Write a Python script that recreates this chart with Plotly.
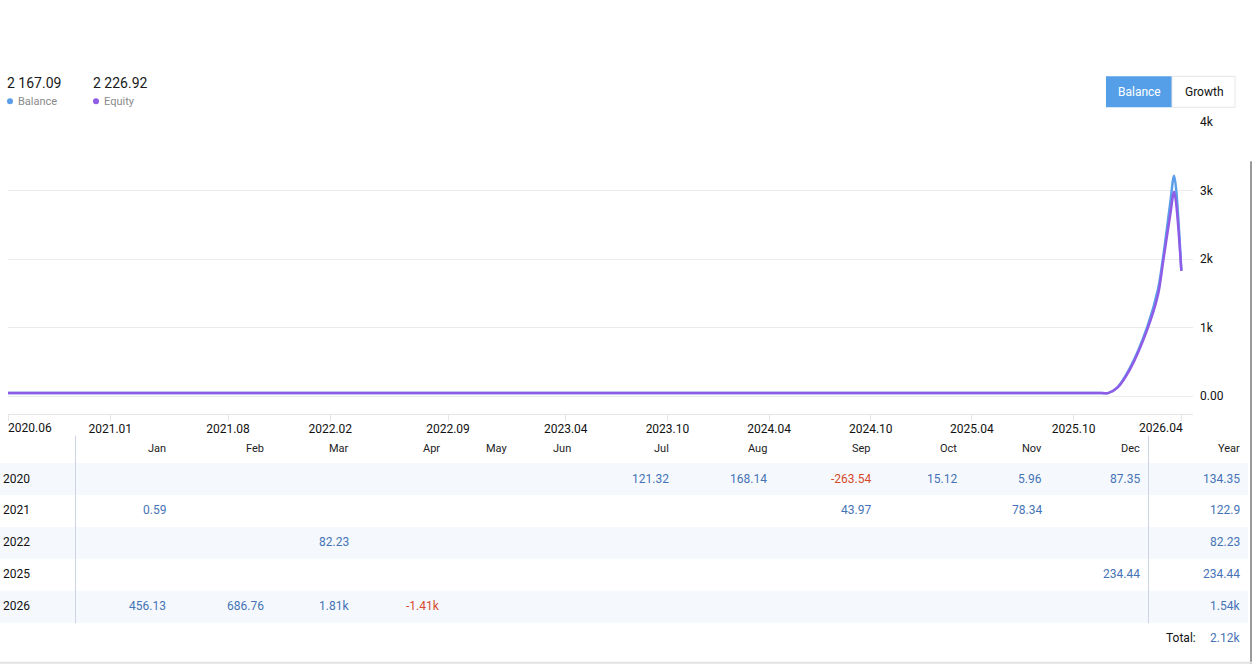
import plotly.graph_objects as go

W, H = 1252, 664

# ---------------- data ----------------
dates = ['2020-07-01', '2025-11-20', '2025-12-02', '2025-12-19', '2026-01-11', '2026-02-11',
         '2026-03-02', '2026-03-11', '2026-03-24', '2026-03-31', '2026-04-13']
balance = [45, 45, 45, 130, 420, 1020, 1560, 2020, 2820, 3220, 1830]
equity = [45, 45, 45, 125, 400, 980, 1480, 1950, 2650, 2980, 1830]

x_tick_dates = ['2020-07-01', '2021-01-01', '2021-08-01', '2022-02-01', '2022-09-01',
                '2023-04-01', '2023-10-01', '2024-04-01', '2024-10-01', '2025-04-01',
                '2025-10-01', '2026-04-13']
x_tick_labels = ['2020.06', '2021.01', '2021.08', '2022.02', '2022.09', '2023.04',
                 '2023.10', '2024.04', '2024.10', '2025.04', '2025.10', '2026.04']
y_tick_vals = [0, 1000, 2000, 3000, 4000]
y_tick_labels = ['0.00', '1k', '2k', '3k', '4k']

header_balance = '2 167.09'
header_equity = '2 226.92'

months = ['Jan', 'Feb', 'Mar', 'Apr', 'May', 'Jun', 'Jul', 'Aug', 'Sep', 'Oct', 'Nov', 'Dec']
years = [2020, 2021, 2022, 2025, 2026]
growth_2020 = [None, None, None, None, None, None, 121.32, 168.14, -263.54, 15.12, 5.96, 87.35]
growth_2021 = [0.59, None, None, None, None, None, None, None, 43.97, None, 78.34, None]
growth_2022 = [None, None, 82.23, None, None, None, None, None, None, None, None, None]
growth_2025 = [None, None, None, None, None, None, None, None, None, None, None, 234.44]
growth_2026 = [456.13, 686.76, 1810, -1410, None, None, None, None, None, None, None, None]
year_totals = [134.35, 122.9, 82.23, 234.44, 1540]
grand_total = 2120

# ---------------- styling / layout helpers ----------------
BLUE = '#5b9ee9'
PURPLE = '#8f5ce8'
VAL = '#4673b6'
NEG = '#d64a2c'
FONT = 'Roboto'

col_right = [166, 264, 349, 440, 508, 571, 669, 767, 871, 957, 1042, 1140]
year_right = 1240
row_y = [478, 510, 542, 574, 606]


def px(x):
    return x / W


def py(y):
    yy = (y - 5.5) / 0.9915
    return 1 - yy / H


def fmt(v):
    if abs(v) >= 1000:
        return f"{v / 1000:.2f}k"
    s = f"{v:.2f}"
    s = s.rstrip('0').rstrip('.')
    return s


def label(x, y, text, anchor='left', size=12, color='#111111'):
    return dict(xref='paper', yref='paper', x=px(x), y=py(y), text=text,
                xanchor=anchor, yanchor='middle', showarrow=False,
                borderpad=0, borderwidth=0,
                font=dict(size=size, color=color, family=FONT))


fig = go.Figure()
fig.add_trace(go.Scatter(x=dates, y=balance, mode='lines', name='Balance',
                         line=dict(color=BLUE, width=2.5, shape='spline', smoothing=0.9),
                         hoverinfo='skip'))
fig.add_trace(go.Scatter(x=dates, y=equity, mode='lines', name='Equity',
                         line=dict(color=PURPLE, width=2.5, shape='spline', smoothing=0.9),
                         hoverinfo='skip'))

annotations = []
shapes = []

# header values
annotations.append(label(7, 82, header_balance, size=14, color='#1a1a1a'))
annotations.append(label(93, 82, header_equity, size=14, color='#1a1a1a'))
annotations.append(label(18, 100, 'Balance', size=11, color='#8a8a8a'))
annotations.append(label(104, 100, 'Equity', size=11, color='#8a8a8a'))
for cx, col in [(10, BLUE), (96, PURPLE)]:
    shapes.append(dict(type='circle', xref='paper', yref='paper', x0=px(cx - 3), x1=px(cx + 3),
                       y0=py(103), y1=py(97), fillcolor=col, line=dict(width=0)))

# buttons
shapes.append(dict(type='rect', xref='paper', yref='paper', x0=px(1106), x1=px(1172),
                   y0=py(106), y1=py(75), fillcolor='#559fe9', line=dict(width=0)))
shapes.append(dict(type='rect', xref='paper', yref='paper', x0=px(1172), x1=px(1235),
                   y0=py(106), y1=py(75), fillcolor='white', line=dict(width=1, color='#e6e6e6')))
annotations.append(label(1139, 90.5, 'Balance', anchor='center', size=12, color='white'))
annotations.append(label(1204, 90.5, 'Growth', anchor='center', size=12, color='#111111'))

# x end labels (clamped inside plot)
annotations.append(label(8, 427.5, x_tick_labels[0], anchor='left'))
annotations.append(label(1183, 427.5, x_tick_labels[-1], anchor='right'))
shown_tick_text = [''] + x_tick_labels[1:-1] + ['']

# table: row bands
for i, y in enumerate(row_y):
    if i % 2 == 0:
        shapes.append(dict(type='rect', xref='paper', yref='paper', x0=0, x1=px(1248),
                           y0=py(y + 16.5), y1=py(y - 15.5), fillcolor='#f5f9fd',
                           line=dict(width=0), layer='below'))
# separators
for sx in [75.5, 1148.5]:
    shapes.append(dict(type='line', xref='paper', yref='paper', x0=px(sx), x1=px(sx),
                       y0=py(623), y1=py(435), line=dict(color='#cdd3e2', width=1)))
# outer frame bits
shapes.append(dict(type='line', xref='paper', yref='paper', x0=px(1251), x1=px(1251),
                   y0=0, y1=py(160), line=dict(color='#9a9a9a', width=2)))
shapes.append(dict(type='line', xref='paper', yref='paper', x0=0, x1=1,
                   y0=py(662.5), y1=py(662.5), line=dict(color='#e2e2e2', width=2)))

# header row
for m, r in zip(months, col_right):
    annotations.append(label(r, 448, m, anchor='right', size=11, color='#222222'))
annotations.append(label(year_right, 448, 'Year', anchor='right', size=11, color='#222222'))

# rows
rows = [growth_2020, growth_2021, growth_2022, growth_2025, growth_2026]
for yr, vals, tot, y in zip(years, rows, year_totals, row_y):
    annotations.append(label(3, y, str(yr)))
    for v, r in zip(vals, col_right):
        if v is None:
            continue
        annotations.append(label(r, y, fmt(v), anchor='right', color=NEG if v < 0 else VAL))
    annotations.append(label(year_right, y, fmt(tot), anchor='right', color=NEG if tot < 0 else VAL))

annotations.append(label(1196, 638, 'Total:', anchor='right'))
annotations.append(label(year_right, 638, fmt(grand_total), anchor='right', color=VAL))

fig.update_layout(
    width=W, height=H,
    margin=dict(l=0, r=0, t=0, b=0),
    paper_bgcolor='white', plot_bgcolor='white',
    showlegend=False,
    font=dict(family=FONT, color='#111111'),
    xaxis=dict(type='date', domain=[px(8), px(1193)], range=['2020-07-01', '2026-05-04'],
               tickmode='array', tickvals=x_tick_dates, ticktext=shown_tick_text,
               ticks='outside', ticklen=6, tickcolor='#e6e6e6', tickwidth=1,
               showline=True, linecolor='#e6e6e6', linewidth=1,
               showgrid=False, zeroline=False, ticklabelstandoff=-2,
               tickfont=dict(size=12, color='#111111', family=FONT), fixedrange=True),
    yaxis=dict(domain=[py(413), py(121)], range=[-255, 4000], side='right',
               tickmode='array', tickvals=y_tick_vals, ticktext=y_tick_labels,
               showgrid=True, gridcolor='#ebebeb', gridwidth=1, zeroline=False,
               showline=False, ticks='', ticklabelstandoff=6,
               tickfont=dict(size=12, color='#111111', family=FONT), fixedrange=True),
    annotations=annotations,
    shapes=shapes,
)

fig.write_html("out.html", config={'displayModeBar': False},
               post_script="document.body.style.margin='0';")
